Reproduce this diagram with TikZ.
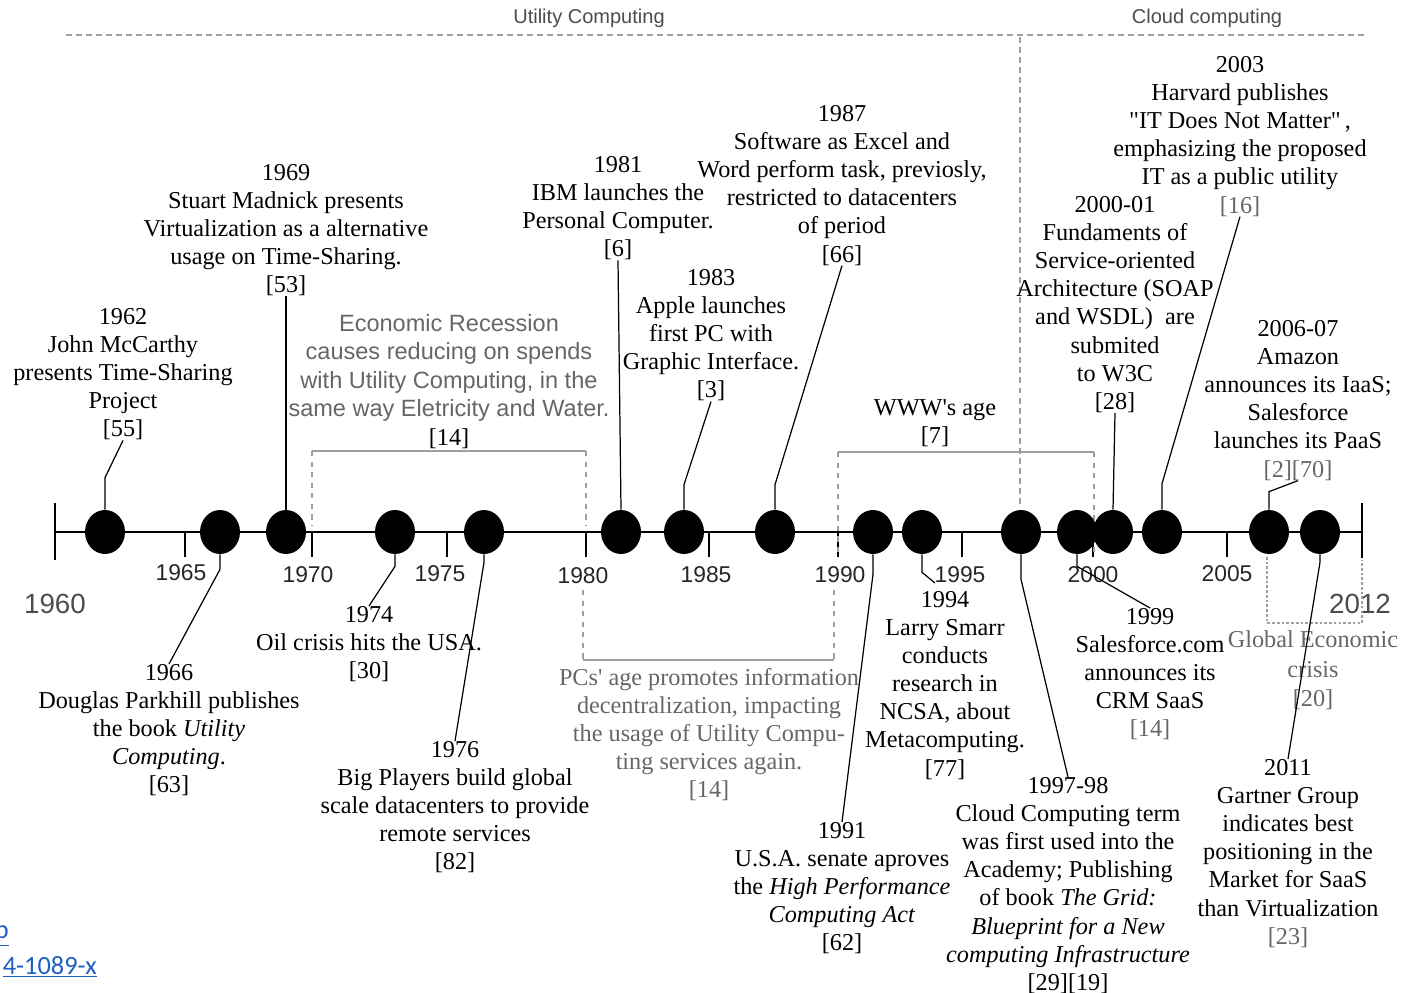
\documentclass[tikz,border=0pt]{standalone}
\usepackage{fontspec}
\setmainfont{Liberation Serif}
\setsansfont{Liberation Sans}
\newfontfamily\linkfont{Carlito}
\usepackage{tikz}
\usetikzlibrary{shapes.geometric}
\definecolor{faint}{gray}{0.4}
\definecolor{rulegrey}{gray}{0.62}
\definecolor{linkblue}{RGB}{28,96,192}

\begin{document}
\begin{tikzpicture}[x=0.02cm, y=-0.02cm,
    eventdot/.style={ellipse, fill=black, inner sep=0pt, minimum width=0.8cm, minimum height=0.88cm},
    evtext/.style={align=center, inner sep=0pt, anchor=north, font=\fontsize{13.8}{16}\selectfont},
    yearlab/.style={inner sep=0pt, text=black!85, font=\sffamily\fontsize{13}{15}\selectfont},
    eralab/.style={inner sep=0pt, text=black!70, font=\sffamily\fontsize{11.4}{13}\selectfont},
    leadline/.style={line width=0.7pt},
    spanline/.style={draw=rulegrey, line width=0.6pt},
    linktext/.style={inner sep=0pt, text=linkblue, font=\linkfont\fontsize{15}{18}\selectfont},
    ]
\useasboundingbox (0,0) rectangle (1403,993);

% eras
\node[eralab] (util) at (589,18) {Utility Computing};
\node[eralab] (cloud) at (1207,18) {Cloud computing};
\draw[rulegrey, line width=0.8pt, dash pattern=on 3.4pt off 2.3pt] (66,35) -- (1364,35);
\draw[rulegrey, line width=0.6pt, dash pattern=on 3.4pt off 2.3pt] (1020,37) -- (1020,506);

% time axis
\draw[line width=1.6pt] (55,532) -- (1362,532);
\draw[line width=1.2pt] (55,503) -- (55,560);
\draw[line width=1.2pt] (1362,503) -- (1362,558);
\foreach \tx/\lx/\ly/\yr in {185/181/573/1965, 312/308/575/1970, 447/440/574/1975,
    586/583/576/1980, 709/706/575/1985, 838/840/575/1990, 962/960/575/1995,
    1093/1093/575/2000, 1227/1227/574/2005}
  {
    \draw[line width=0.9pt] (\tx,532) -- (\tx,557);
    \node[yearlab] (y\yr) at (\lx,\ly) {\yr};
  }
\node[yearlab, text=black!70, font=\sffamily\fontsize{15.8}{18}\selectfont] (y1960) at (55,604) {1960};
\node[yearlab, text=black!70, font=\sffamily\fontsize{15.8}{18}\selectfont] (y2012) at (1360,604) {2012};

% periods
\draw[spanline] (312,451) -- (586,451);
\draw[spanline, dashed] (312,451) -- (312,525) (586,451) -- (586,525);
\draw[spanline] (838,452) -- (1094,452);
\draw[spanline, dashed] (838,452) -- (838,557) (1094,452) -- (1094,557);
\draw[spanline] (583,660) -- (834,660);
\draw[spanline, dashed] (583,590) -- (583,660) (834,590) -- (834,660);
\draw[spanline, dash pattern=on 1.5pt off 1.2pt] (1267,557) -- (1267,623) -- (1362,623) -- (1362,560);

% events
\node[eventdot] (d62) at (105,532) {};
\node[eventdot] (d66) at (220,532) {};
\node[eventdot] (d69) at (286,532) {};
\node[eventdot] (d74) at (395,532) {};
\node[eventdot] (d76) at (484,532) {};
\node[eventdot] (d81) at (621,532) {};
\node[eventdot] (d83) at (684,532) {};
\node[eventdot] (d87) at (775,532) {};
\node[eventdot] (d91) at (873,532) {};
\node[eventdot] (d94) at (922,532) {};
\node[eventdot] (d97) at (1021,532) {};
\node[eventdot] (d99) at (1077,532) {};
\node[eventdot] (d00) at (1113,532) {};
\node[eventdot] (d03) at (1162,532) {};
\node[eventdot] (d06) at (1269,532) {};
\node[eventdot] (d11) at (1320,532) {};

% above the axis
\node[evtext] (t62) at (123,308) {1962\\John McCarthy\\presents Time-Sharing\\Project\\{}[55]};
\node[evtext] (t69) at (286,164) {1969\\Stuart Madnick presents\\Virtualization as a alternative\\usage on Time-Sharing.\\{}[53]};
\node[evtext, text=faint, font=\sffamily\fontsize{13.4}{16.2}\selectfont] (trec) at (449,314)
  {Economic Recession\\causes reducing on spends\\with Utility Computing, in the\\same way Eletricity and Water.\\\textcolor{black}{\rmfamily\fontsize{13.8}{16}\selectfont[14]}};
\node[evtext] (t81) at (618,156) {1981\\IBM launches the\\Personal Computer.\\{}[6]};
\node[evtext] (t83) at (711,269) {1983\\Apple launches\\first PC with\\Graphic Interface.\\{}[3]};
\node[evtext] (t87) at (842,105) {1987\\Software as Excel and\\Word perform task, previosly,\\restricted to datacenters\\of period\\{}[66]};
\node[evtext] (twww) at (935,399) {WWW\textquotesingle s age\\{}[7]};
\node[evtext] (t00) at (1115,196) {2000-01\\Fundaments of\\Service-oriented\\Architecture (SOAP\\and WSDL)~~are\\submited\\to W3C\\{}[28]};
\node[evtext] (t03) at (1240,56) {2003\\Harvard publishes\\\textquotedbl IT Does Not Matter\textquotedbl\,,\\emphasizing the proposed\\IT as a public utility\\\textcolor{faint}{[16]}};
\node[evtext] (t06) at (1298,320) {2006-07\\Amazon\\announces its IaaS;\\Salesforce\\launches its PaaS\\\textcolor{faint}{[2][70]}};

% below the axis
\node[evtext] (t66) at (169,664) {1966\\Douglas Parkhill publishes\\the book \textit{Utility}\\\textit{Computing}.\\{}[63]};
\node[evtext] (t74) at (369,606) {1974\\Oil crisis hits the USA.\\{}[30]};
\node[evtext] (t76) at (455,741) {1976\\Big Players build global\\scale datacenters to provide\\remote services\\{}[82]};
\node[evtext, text=faint] (tpc) at (709,668) {PCs\textquotesingle\ age promotes information\\decentralization, impacting\\the usage of Utility Compu-\\ting services again.\\{}[14]};
\node[evtext] (t91) at (842,822) {1991\\U.S.A. senate aproves\\the \textit{High Performance}\\\textit{Computing Act}\\{}[62]};
\node[evtext] (t94) at (945,591) {1994\\Larry Smarr\\conducts\\research in\\NCSA, about\\Metacomputing.\\{}[77]};
\node[evtext] (t97) at (1068,777) {1997-98\\Cloud Computing term\\was first used into the\\Academy; Publishing\\of book \textit{The Grid:}\\\textit{Blueprint for a New}\\\textit{computing Infrastructure}\\{}[29][19]};
\node[evtext] (t99) at (1150,608) {1999\\Salesforce.com\\announces its\\CRM SaaS\\\textcolor{faint}{[14]}};
\node[evtext, text=faint, font=\fontsize{13.8}{17}\selectfont] (tglob) at (1313,630) {Global Economic\\crisis\\{}[20]};
\node[evtext] (t11) at (1288,759) {2011\\Gartner Group\\indicates best\\positioning in the\\Market for SaaS\\than Virtualization\\\textcolor{faint}{[23]}};

% leaders
\draw[leadline] (d62.north) -- ++(0,-32) -- (t62.south);
\draw[leadline] (d69.north) -- (t69.south);
\draw[leadline] (d81.north) -- (t81.south);
\draw[leadline] (d83.north) -- ++(0,-25) -- (t83.south);
\draw[leadline] (d87.north) -- ++(0,-25) -- (t87.south);
\draw[leadline] (d00.north) -- (t00.south);
\draw[leadline] (d03.north) -- ++(0,-26) -- (t03.south);
\draw[leadline] (d06.north) -- ++(0,-18) -- (t06.south);
\draw[leadline] (d66.south) -- ++(0,15) -- (t66.north);
\draw[leadline] (d74.south) -- ++(0,12) -- (t74.north);
\draw[leadline] (d76.south) -- ++(0,8) -- (t76.north);
\draw[leadline] (d91.south) -- ++(0,20) -- (t91.north);
\draw[leadline] (d94.south) -- ++(0,18) -- ([shift={(-10,-8)}]t94.north);
\draw[leadline] (d97.south) -- ++(0,25) -- (t97.north);
\draw[leadline] (d99.south) -- ++(0,12) -- (t99.north);
\draw[leadline] (d11.south) -- ++(0,8) -- (t11.north);

% cut-off link
\node[linktext, anchor=east] (lk1) at (9,936) {\underline{p}};
\node[linktext, anchor=east] (lk2) at (97,967) {\underline{4-1089-x}};
\end{tikzpicture}
\end{document}
